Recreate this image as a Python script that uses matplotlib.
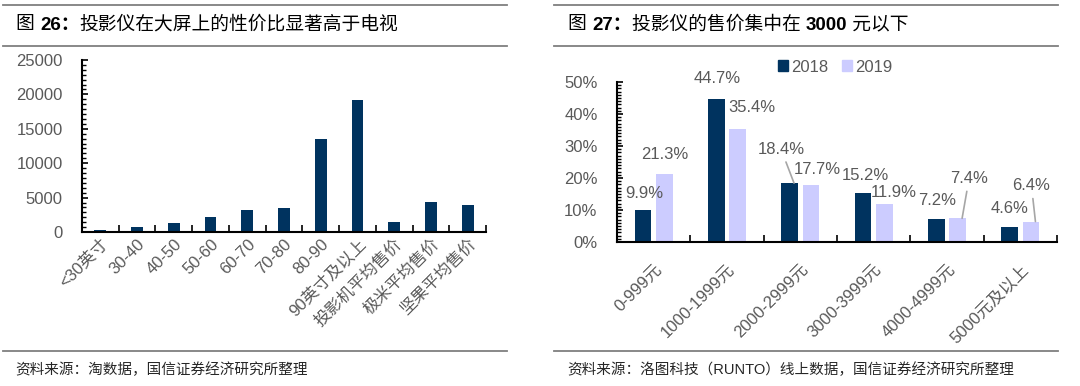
import matplotlib
matplotlib.use('agg')
import matplotlib.pyplot as plt
from matplotlib.lines import Line2D
from matplotlib.patches import Patch
from matplotlib.ticker import MultipleLocator, FuncFormatter
import numpy as np

plt.rcParams['font.family'] = ['Liberation Sans', 'Noto Sans CJK SC']
plt.rcParams['axes.unicode_minus'] = False

# chart 26: price by screen size
size_labels = ['<30英寸', '30-40', '40-50', '50-60', '60-70', '70-80', '80-90',
               '90英寸及以上', '投影机平均售价', '极米平均售价', '坚果平均售价']
size_prices = [240, 730, 1310, 2140, 3150, 3500, 13450, 19170, 1400, 4320, 3880]

# chart 27: projector price share
price_bands = ['0-999元', '1000-1999元', '2000-2999元', '3000-3999元',
               '4000-4999元', '5000元及以上']
share_2018 = [0.099, 0.447, 0.184, 0.152, 0.072, 0.046]
share_2019 = [0.213, 0.354, 0.177, 0.119, 0.074, 0.064]

NAVY = '#00335F'
LILAC = '#CCCCFF'
GRAY = '#595959'

# label offsets in pixels (dx, dy) from bar top, and whether a leader line is drawn
off_2018 = [(1, 17, False), (1, 20, False), (-13, 34, True), (2, 18, False), (1, 18, False), (0, 19, False)]
off_2019 = [(0, 19, False), (14, 21, False), (6, 16, False), (9, 11, False), (7, 40, True), (-4, 36, True)]

fig = plt.figure(figsize=(10.8, 3.86), dpi=100)


def style_axes(ax):
    for s in ['top', 'right']:
        ax.spines[s].set_visible(False)
    for s in ['left', 'bottom']:
        ax.spines[s].set_linewidth(1.5)
        ax.spines[s].set_color('black')
    ax.tick_params(axis='y', which='major', direction='in', length=4, width=1.2,
                   labelsize=12, labelcolor=GRAY, pad=14)
    ax.tick_params(axis='y', which='minor', direction='in', length=3, width=1)
    ax.tick_params(axis='x', which='major', direction='in', length=5, width=1.2, labelbottom=False)


def add_title(parts, x, y):
    # pieces are chained so numbers can be bold
    last = fig.text(x, y, parts[0][0], fontsize=13.5, fontweight=parts[0][1], va='center', ha='left')
    for txt, w in parts[1:]:
        last = fig.axes[0].annotate(txt, xy=(1, 0), xycoords=last, fontsize=13.5,
                                    fontweight=w, va='bottom', ha='left',
                                    annotation_clip=False)


# ---- left chart
ax1 = fig.add_axes([82 / 1080, 1 - 232 / 386, 404 / 1080, 172 / 386])
x1 = np.arange(len(size_labels))
ax1.bar(x1, size_prices, width=0.32, color=NAVY)
ax1.set_xlim(-0.5, len(size_labels) - 0.5)
ax1.set_ylim(0, 25000)
ax1.yaxis.set_major_locator(MultipleLocator(5000))
ax1.yaxis.set_minor_locator(MultipleLocator(5000 / 7))
style_axes(ax1)
ax1.set_xticks(np.arange(len(size_labels) + 1) - 0.5)
ax1.set_xticks(x1, minor=True)
ax1.set_xticklabels(size_labels, minor=True, rotation=45, ha='right', va='top',
                    rotation_mode='anchor', fontsize=12, color=GRAY)
ax1.tick_params(axis='x', which='minor', length=0, pad=3)

# ---- right chart
ax2 = fig.add_axes([617 / 1080, 1 - 242 / 386, 440 / 1080, 160 / 386])
x2 = np.arange(len(price_bands))
off = 0.146
w = 0.23
ax2.bar(x2 - off, share_2018, width=w, color=NAVY, label='2018')
ax2.bar(x2 + off, share_2019, width=w, color=LILAC, label='2019')
ax2.set_xlim(-0.5, len(price_bands) - 0.5)
ax2.set_ylim(0, 0.5)
ax2.yaxis.set_major_locator(MultipleLocator(0.1))
ax2.yaxis.set_minor_locator(MultipleLocator(0.01))
ax2.yaxis.set_major_formatter(FuncFormatter(lambda v, p: f'{v * 100:.0f}%'))
style_axes(ax2)
ax2.set_xticks(np.arange(len(price_bands) + 1) - 0.5)
ax2.set_xticks(x2, minor=True)
ax2.set_xticklabels(price_bands, minor=True, rotation=45, ha='right', va='top',
                    rotation_mode='anchor', fontsize=12, color=GRAY)
ax2.tick_params(axis='x', which='minor', length=0, pad=14)

for xs, vals, offs in [(x2 - off, share_2018, off_2018), (x2 + off, share_2019, off_2019)]:
    for xi, v, (dx, dy, lead) in zip(xs, vals, offs):
        kw = {}
        if lead:
            kw['arrowprops'] = dict(arrowstyle='-', color='#A6A6A6', lw=1.2,
                                    shrinkA=2, shrinkB=0)
        ax2.annotate(f'{v * 100:.1f}%', xy=(xi + (0.06 if lead else 0), v),
                     xytext=(dx, dy), textcoords='offset pixels',
                     ha='center', va='center', fontsize=12, color=GRAY, **kw)

handles = [Patch(color=NAVY, label='2018'), Patch(color=LILAC, label='2019')]
ax2.legend(handles=handles, loc='center', bbox_to_anchor=(835 / 1080, 1 - 67 / 386),
           bbox_transform=fig.transFigure, ncol=2, frameon=False, fontsize=12,
           handlelength=0.6, handleheight=0.6, handletextpad=0.2, columnspacing=0.8,
           labelcolor=GRAY)

# ---- frame lines, titles, sources
for x0, x1_ in [(3, 507), (554, 1058)]:
    for yy in [5, 46, 351]:
        fig.add_artist(Line2D([x0 / 1080, x1_ / 1080], [1 - yy / 386] * 2,
                              color='#7F7F7F', lw=1.3, transform=fig.transFigure))

add_title([('图 ', 'normal'), ('26：', 'bold'), ('投影仪在大屏上的性价比显著高于电视', 'normal')],
          16 / 1080, 1 - 25 / 386)
add_title([('图 ', 'normal'), ('27：', 'bold'), ('投影仪的售价集中在 ', 'normal'),
           ('3000', 'bold'), (' 元以下', 'normal')],
          568 / 1080, 1 - 25 / 386)

fig.text(15 / 1080, 1 - 370 / 386, '资料来源：淘数据，国信证券经济研究所整理',
         fontsize=10.5, va='center', ha='left', color='#262626')
fig.text(567 / 1080, 1 - 370 / 386, '资料来源：洛图科技（RUNTO）线上数据，国信证券经济研究所整理',
         fontsize=10.5, va='center', ha='left', color='#262626')

fig.savefig('out.png', dpi=100)
